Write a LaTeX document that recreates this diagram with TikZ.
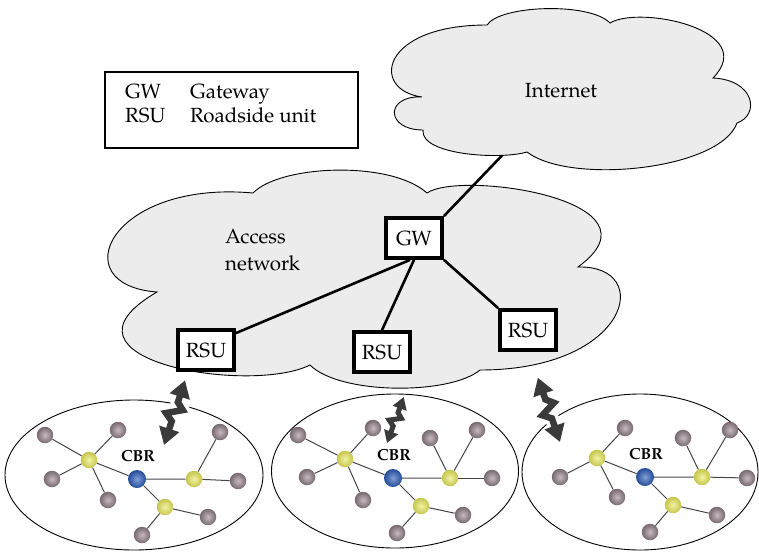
\documentclass[tikz,border=0pt]{standalone}
\usepackage{fontspec}
\setmainfont{texgyrepagella}[Extension=.otf, UprightFont=*-regular, BoldFont=*-bold]
\usetikzlibrary{shapes.geometric, arrows.meta}

\definecolor{cloudfill}{RGB}{236,236,236}
\definecolor{boltgray}{RGB}{58,58,58}
\definecolor{leafgray}{RGB}{150,130,140}
\definecolor{hubyellow}{RGB}{232,232,90}
\definecolor{hubblue}{RGB}{45,95,190}
\definecolor{linkgray}{RGB}{70,70,70}

\tikzset{
  cloudpath/.style={fill=cloudfill, draw=black, line width=0.9pt},
  unitbox/.style={draw=black, line width=3.8pt, fill=white, minimum width=56pt,
    minimum height=40pt, inner sep=0pt, font=\fontsize{20.5}{24}\selectfont},
  uplink/.style={line width=2.6pt, black},
  label/.style={inner sep=0pt, font=\fontsize{20.5}{24}\selectfont},
  zone/.style={ellipse, draw=black, line width=0.9pt, inner sep=0pt},
  leaf/.style={circle, inner sep=0pt, minimum size=16.5pt, shading=radial,
    inner color=leafgray!55!white, outer color=leafgray!80!black},
  hubY/.style={circle, inner sep=0pt, minimum size=16.5pt, shading=radial,
    inner color=hubyellow!55!white, outer color=hubyellow!85!black},
  hubB/.style={circle, inner sep=0pt, minimum size=18pt, shading=radial,
    inner color=hubblue!60!white, outer color=hubblue!80!black},
  link/.style={linkgray, line width=1pt},
  cbr/.style={inner sep=0pt, font=\fontsize{16}{18}\selectfont\bfseries},
  halo/.style={white, line width=14pt, shorten <=14pt, shorten >=14pt},
  boltbig/.style={boltgray, line width=6.5pt, line join=miter,
    {Triangle[length=17pt,width=20pt]}-{Triangle[length=17pt,width=20pt]}},
  boltsmall/.style={boltgray, line width=5pt, line join=miter,
    {Triangle[length=12pt,width=14pt]}-{Triangle[length=12pt,width=14pt]}}
}

% One vehicle cluster: #1 name prefix, #2 centre, #3/#4/#5 leaf offsets of the three hubs
\newcommand\vcluster[5]{%
  \begin{scope}[shift={#2}]
    \node[hubB] (#1-c) at (0,0) {};
    \node[hubY] (#1-h1) at (-48,19) {};
    \node[hubY] (#1-h2) at (57,0) {};
    \node[hubY] (#1-h3) at (28,-28) {};
    \draw[link] (#1-c) -- (#1-h1) (#1-c) -- (#1-h2) (#1-c) -- (#1-h3);
    \foreach \x/\y [count=\i] in {#3} {
      \node[leaf] (#1-a\i) at (\x,\y) {};
      \draw[link] (#1-h1) -- (#1-a\i);
    }
    \foreach \x/\y [count=\i] in {#4} {
      \node[leaf] (#1-b\i) at (\x,\y) {};
      \draw[link] (#1-h2) -- (#1-b\i);
    }
    \foreach \x/\y [count=\i] in {#5} {
      \node[leaf] (#1-d\i) at (\x,\y) {};
      \draw[link] (#1-h3) -- (#1-d\i);
    }
    \node[cbr] (#1-lbl) at (1,23) {CBR};
  \end{scope}}

% Zig-zag radio link: #1 name, #2 lower tip, #3 rotation, #4 scale, #5 style
\newcommand\radiobolt[5]{%
  \begin{scope}[shift={#2}, rotate=#3, scale=#4]
    \coordinate (#1-lo) at (0,0);
    \coordinate (#1-hi) at (0,68);
    \draw[halo] (#1-lo) -- (0,25) -- (-8,31) -- (7,39) -- (0,45) -- (#1-hi);
    \draw[#5] (#1-lo) -- (0,25) -- (-8,31) -- (7,39) -- (0,45) -- (#1-hi);
  \end{scope}}

\begin{document}
\begin{tikzpicture}[x=1pt, y=1pt]
  \useasboundingbox (0,-552) rectangle (759,0);

  % access network cloud
  \path[cloudpath] (157,-292) .. controls (62,-285) and (110,-180) .. (253,-193)
    .. controls (280,-165) and (390,-160) .. (427,-193)
    .. controls (460,-170) and (670,-200) .. (578,-267)
    .. controls (655,-265) and (630,-370) .. (480,-370)
    .. controls (450,-395) and (340,-395) .. (310,-365)
    .. controls (250,-395) and (40,-360) .. cycle;
  \node[label, anchor=base west] (acc1) at (225,-243) {Access};
  \node[label, anchor=base west] (acc2) at (225,-270) {network};

  % gateway and roadside units
  \node[unitbox] (gw) at (414,-238) {GW};
  \node[unitbox] (rsu1) at (206,-350) {RSU};
  \node[unitbox] (rsu2) at (382,-352) {RSU};
  \node[unitbox] (rsu3) at (528,-330) {RSU};

  \coordinate (inet-foot) at (514,-143);
  \draw[uplink] (gw.north east) -- (inet-foot);
  \draw[uplink] ([xshift=-4pt]gw.south) -- ([yshift=-5pt]rsu1.north east);
  \draw[uplink] (gw.south) -- (rsu2.north);
  \draw[uplink] (gw.south east) -- (rsu3.north west);
  % boxes again on top of the link ends
  \node[unitbox] at (gw) {GW};
  \node[unitbox] at (rsu1) {RSU};
  \node[unitbox] at (rsu2) {RSU};
  \node[unitbox] at (rsu3) {RSU};

  % internet cloud
  \path[cloudpath] (422,-97) .. controls (370,-90) and (380,-25) .. (487,-25)
    .. controls (500,-5) and (590,-2) .. (610,-23)
    .. controls (640,-5) and (760,-30) .. (713,-78)
    .. controls (755,-80) and (760,-115) .. (737,-123)
    .. controls (720,-170) and (570,-185) .. (527,-152)
    .. controls (500,-160) and (420,-155) .. (423,-130)
    .. controls (385,-130) and (385,-95) .. cycle;
  \node[label, anchor=base] (inet) at (561,-97) {Internet};

  % legend
  \node[draw=black, line width=1.1pt, minimum width=253pt, minimum height=76pt,
        inner sep=0pt] (legend) at (231.5,-110) {};
  \node[label, anchor=base west] (lg1) at (125,-98) {GW};
  \node[label, anchor=base west] (lg2) at (190,-98) {Gateway};
  \node[label, anchor=base west] (lg3) at (125,-122) {RSU};
  \node[label, anchor=base west] (lg4) at (190,-122) {Roadside unit};

  % vehicle zones
  \node[zone, minimum width=258pt, minimum height=150pt] (z1) at (134,-475) {};
  \node[zone, minimum width=247pt, minimum height=154pt] (z2) at (395,-471) {};
  \node[zone, minimum width=236pt, minimum height=156pt] (z3) at (640,-472) {};

  % radio links
  \radiobolt{w1}{(164,-445)}{-18}{1.0}{boltbig}
  \radiobolt{w2}{(387,-443)}{-20}{0.72}{boltsmall}
  \radiobolt{w3}{(560,-442)}{19}{1.0}{boltbig}

  % clusters
  \vcluster{k1}{(137,-479)}{-92/44,-19/49,-85/0,-29/-21}{83/47,101/-2}{71/-38,5/-56}
  \vcluster{k2}{(393,-478)}{-95/43,-20/50,-86/1,-30/-22}{37/40,84/48,99/0}{70/-37,4/-55}
  \vcluster{k3}{(645,-477)}{-20/49,-85/0,-28/-20}{38/39,85/47,102/-1}{72/-38,5/-55}
\end{tikzpicture}
\end{document}
